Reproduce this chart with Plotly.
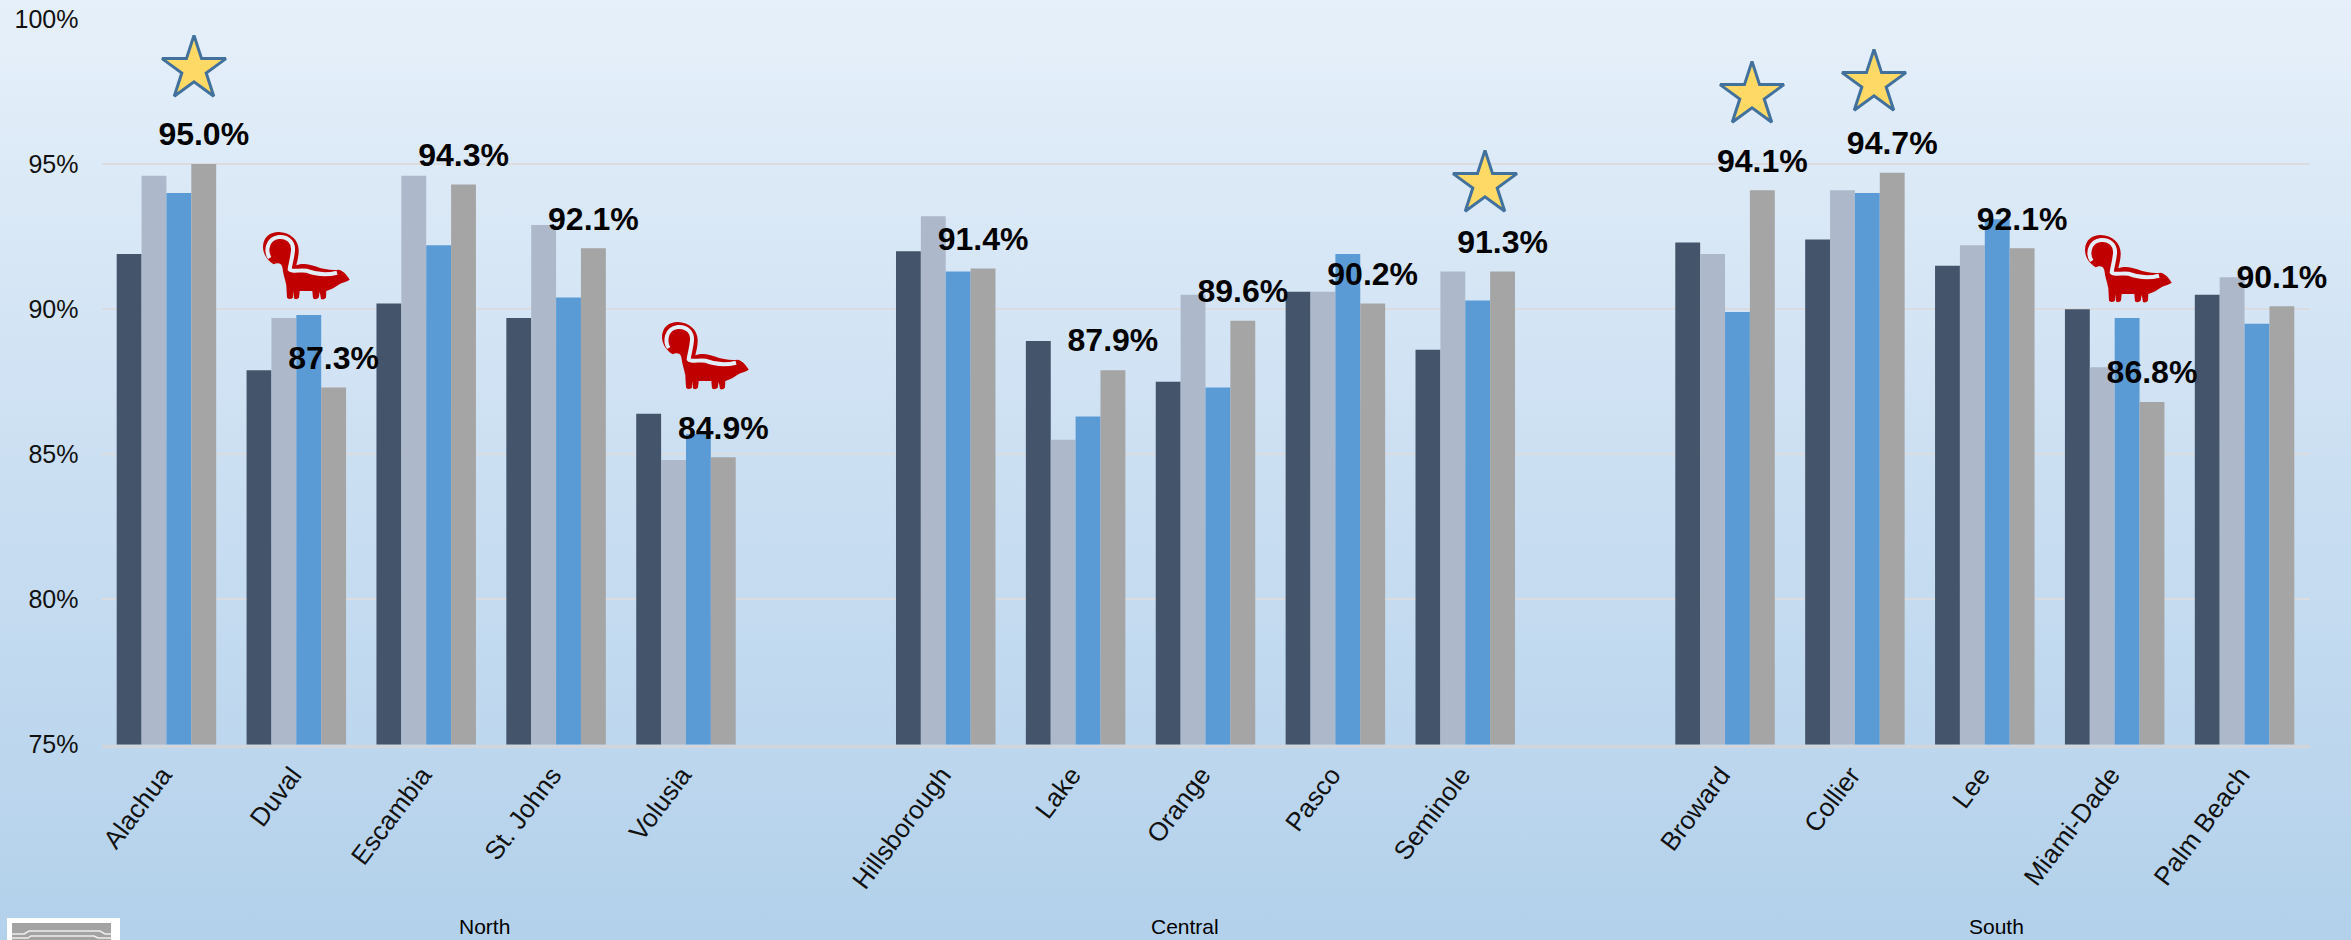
import base64

import plotly.graph_objects as go

W, H = 2351, 940

north = ["Alachua", "Duval", "Escambia", "St. Johns", "Volusia"]
central = ["Hillsborough", "Lake", "Orange", "Pasco", "Seminole"]
south = ["Broward", "Collier", "Lee", "Miami-Dade", "Palm Beach"]
counties = north + central + south

# four unnamed series per county
series_a = [91.9, 87.9, 90.2, 89.7, 86.4, 92.0, 88.9, 87.5, 90.6, 88.6, 92.3, 92.4, 91.5, 90.0, 90.5]
series_b = [94.6, 89.7, 94.6, 92.9, 84.8, 93.2, 85.5, 90.5, 90.6, 91.3, 91.9, 94.1, 92.2, 88.0, 91.1]
series_c = [94.0, 89.8, 92.2, 90.4, 85.7, 91.3, 86.3, 87.3, 91.9, 90.3, 89.9, 94.0, 93.1, 89.7, 89.5]
series_d = [95.0, 87.3, 94.3, 92.1, 84.9, 91.4, 87.9, 89.6, 90.2, 91.3, 94.1, 94.7, 92.1, 86.8, 90.1]
colors = ["#44546A", "#ADB9CA", "#5B9BD5", "#A5A5A5"]

y_ticks = [75, 80, 85, 90, 95, 100]
starred = ["Alachua", "Seminole", "Broward", "Collier"]
skunked = ["Duval", "Volusia", "Miami-Dade"]

# pixel placement of the decorations, as they were pasted on the slide
star_px = {"Alachua": (194, 69), "Seminole": (1485, 184), "Broward": (1752, 95), "Collier": (1874, 83)}
skunk_px = {"Duval": (263, 232), "Volusia": (662, 322), "Miami-Dade": (2085, 235)}
group_px = [("North", 484), ("Central", 1185), ("South", 1996)]

# one empty slot between the regions
x_pos = [i for i in range(5)] + [i for i in range(6, 11)] + [i for i in range(12, 17)]

BARGAP = 0.234
bar_w = (1 - BARGAP) / 4

gradient = (
    f'<svg xmlns="http://www.w3.org/2000/svg" width="{W}" height="{H}">'
    '<defs><linearGradient id="g" x1="0" y1="0" x2="0" y2="1">'
    '<stop offset="0" stop-color="#E6F0FA"/><stop offset="0.5" stop-color="#CBDFF2"/>'
    '<stop offset="1" stop-color="#B3D1EB"/></linearGradient></defs>'
    f'<rect width="{W}" height="{H}" fill="url(#g)"/></svg>'
)
bg_uri = "data:image/svg+xml;base64," + base64.b64encode(gradient.encode()).decode()

fig = go.Figure()
for values, color in zip([series_a, series_b, series_c, series_d], colors):
    fig.add_trace(go.Bar(x=x_pos, y=values, marker_color=color, marker_line_width=0, hoverinfo="skip"))

fig.add_trace(
    go.Scatter(
        x=[p + 1.5 * bar_w for p in x_pos],
        y=[v + 0.92 for v in series_d],
        text=[f"{v:.1f}%" for v in series_d],
        mode="text",
        textposition="middle center",
        textfont=dict(family="Liberation Sans", size=32, color="black", weight="bold"),
        cliponaxis=False,
        hoverinfo="skip",
    )
)

fig.add_trace(
    go.Scatter(
        x=[star_px[c][0] for c in starred],
        y=[star_px[c][1] for c in starred],
        xaxis="x2",
        yaxis="y2",
        mode="markers",
        marker=dict(symbol="star", size=48, color="#FFD966", line=dict(color="#41719C", width=3)),
        hoverinfo="skip",
    )
)


def px_path(template, ox, oy):
    # template is in crop pixels at 3x, so divide back down and move into place
    res = []
    is_x = True
    for tok in template.split():
        if tok.isalpha():
            res.append(tok)
            is_x = True
        else:
            res.append(f"{float(tok) / 3 + (ox if is_x else oy):.1f}")
            is_x = not is_x
    return " ".join(res)


skunk_body = (
    "M 32 97 C 12 85 0 65 0 45 C 0 15 22 0 47 0 C 82 0 107 25 107 55 C 107 75 102 90 100 100 "
    "C 117 93 137 95 157 103 C 182 113 207 115 227 113 C 242 117 252 130 260 143 "
    "C 252 150 242 150 232 155 C 217 165 204 173 190 177 L 189 197 Q 182 205 174 201 L 170 179 "
    "L 167 197 Q 158 205 150 199 L 148 177 L 110 177 L 108 197 Q 100 205 93 199 L 92 177 "
    "L 90 197 Q 80 205 72 197 L 70 160 C 66 140 60 125 58 105 C 54 90 40 93 32 97 Z"
)
skunk_stripe = (
    "M 20 78 C 8 60 10 20 47 15 C 75 12 92 32 90 55 C 88 80 82 95 80 112 "
    "C 90 122 112 112 130 116 C 150 124 185 132 222 122"
)

shapes = []
# small pasted logo in the corner
shapes.append(dict(type="rect", x0=7, x1=120, y0=918, y1=940, fillcolor="white", line_width=0))
shapes.append(dict(type="rect", x0=12, x1=111, y0=923, y1=940, fillcolor="#A3A3A3", line_width=0))
shapes.append(dict(type="path", path="M 12 934 L 24 934 L 29 931 L 100 931 L 105 934 L 111 934",
                   line=dict(color="#EEEEEE", width=1.5)))
shapes.append(dict(type="path", path="M 12 938 L 28 938 L 31 936 L 94 936 L 98 938 L 111 938",
                   line=dict(color="#EEEEEE", width=1.5)))
for c in skunked:
    ox, oy = skunk_px[c]
    shapes.append(dict(type="path", path=px_path(skunk_body, ox, oy), fillcolor="#C00000", line_width=0))
    shapes.append(dict(type="path", path=px_path(skunk_stripe, ox, oy), line=dict(color="#E3EEF8", width=4)))
for s in shapes:
    s.update(xref="x2", yref="y2", layer="above")

annotations = [
    dict(
        text=name,
        x=px / W,
        y=1 - 926 / H,
        xref="paper",
        yref="paper",
        xanchor="center",
        yanchor="middle",
        showarrow=False,
        font=dict(family="Liberation Sans", size=21, color="black"),
    )
    for name, px in group_px
]

fig.update_layout(
    width=W,
    height=H,
    margin=dict(l=0, r=0, t=0, b=0, pad=0, autoexpand=False),
    paper_bgcolor="#B3D1EB",
    plot_bgcolor="rgba(0,0,0,0)",
    barmode="group",
    bargap=BARGAP,
    bargroupgap=0,
    showlegend=False,
    images=[
        dict(source=bg_uri, xref="paper", yref="paper", x=0, y=1, sizex=1, sizey=1,
             xanchor="left", yanchor="top", sizing="stretch", layer="below")
    ],
    shapes=shapes,
    annotations=annotations,
    xaxis=dict(
        domain=[101.5 / W, 2309.5 / W],
        range=[-0.5, 16.5],
        automargin=False,
        tickmode="array",
        tickvals=[p - 0.03 for p in x_pos],
        ticktext=counties,
        tickangle=-53,
        tickfont=dict(family="Liberation Sans", size=26, color="#111111"),
        ticks="outside",
        ticklen=2,
        tickcolor="rgba(0,0,0,0)",
        showgrid=False,
        zeroline=False,
        showline=True,
        linecolor="#D2D5DA",
        linewidth=3,
    ),
    yaxis=dict(
        domain=[1 - 744.5 / H, 1 - 19 / H],
        range=[75, 100],
        automargin=False,
        tickmode="array",
        tickvals=y_ticks,
        ticktext=[f"{t}%" for t in y_ticks],
        tickfont=dict(family="Liberation Sans", size=25, color="#111111"),
        ticklabelstandoff=22,
        ticks="",
        gridcolor="#DADCE0",
        gridwidth=2,
        zeroline=False,
        showline=False,
    ),
    xaxis2=dict(domain=[0, 1], range=[0, W], visible=False, anchor="y2", automargin=False),
    yaxis2=dict(domain=[0, 1], range=[H, 0], visible=False, anchor="x2", automargin=False),
)

fig.write_html(
    "out.html",
    config=dict(displayModeBar=False),
    post_script="document.body.style.margin='0';",
)
